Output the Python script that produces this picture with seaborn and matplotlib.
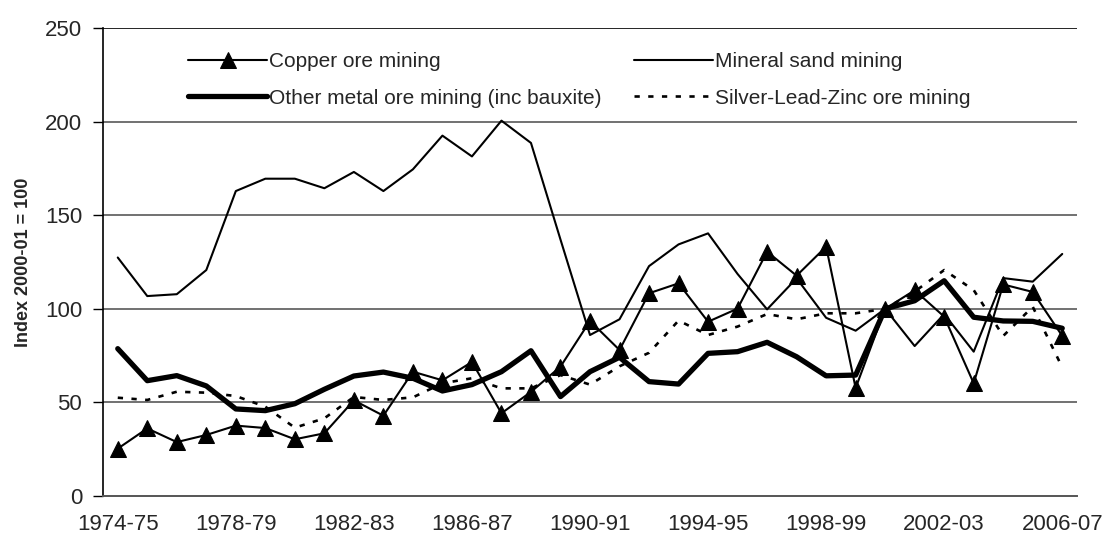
import numpy as np
import pandas as pd
import matplotlib
matplotlib.use("Agg")
import matplotlib.pyplot as plt
import seaborn as sns

# ---- data ----
years = ["1974-75", "1975-76", "1976-77", "1977-78", "1978-79", "1979-80",
         "1980-81", "1981-82", "1982-83", "1983-84", "1984-85", "1985-86",
         "1986-87", "1987-88", "1988-89", "1989-90", "1990-91", "1991-92",
         "1992-93", "1993-94", "1994-95", "1995-96", "1996-97", "1997-98",
         "1998-99", "1999-00", "2000-01", "2001-02", "2002-03", "2003-04",
         "2004-05", "2005-06", "2006-07"]

copper = [25.3, 36.1, 28.8, 32.6, 37.6, 36.3, 30.3, 33.5, 51.1, 42.9, 66.4,
          61.8, 71.6, 44.2, 55.6, 69.1, 93.5, 78.0, 108.3, 113.6, 93.1, 100.1,
          130.5, 117.7, 133.2, 57.7, 100.0, 109.9, 95.8, 60.2, 113.0, 109.0, 85.5]

mineral_sand = [127.4, 106.8, 107.8, 120.7, 162.9, 169.5, 169.5, 164.4, 173.1,
                162.9, 174.5, 192.5, 181.4, 200.5, 188.6, 137.0, 86.0, 94.4,
                122.8, 134.4, 140.3, 118.6, 99.7, 116.3, 95.2, 88.3, 100.0,
                80.1, 97.2, 77.1, 116.4, 114.5, 129.3]

other_metal = [78.7, 61.6, 64.3, 58.8, 46.5, 45.6, 49.3, 57.0, 64.1, 66.2, 62.9,
               56.1, 59.5, 66.4, 77.6, 53.1, 66.4, 74.1, 61.1, 59.8, 76.2, 77.1,
               82.1, 74.4, 64.2, 64.6, 100.0, 104.3, 115.0, 95.5, 93.5, 93.3, 89.6]

silver_lead_zinc = [52.5, 51.3, 55.7, 55.2, 53.4, 47.7, 36.5, 41.5, 52.9, 51.3,
                    52.7, 60.2, 62.9, 57.5, 57.5, 64.6, 59.5, 69.3, 76.5, 93.7,
                    86.0, 90.5, 97.2, 94.4, 97.6, 97.6, 100.0, 109.2, 120.7,
                    110.0, 85.5, 101.1, 68.7]

labels = ["Copper ore mining", "Mineral sand mining",
          "Other metal ore mining (inc bauxite)", "Silver-Lead-Zinc ore mining"]

# ---- style ----
sns.set_theme(style="white")
plt.rcParams["font.family"] = ["Liberation Sans", "DejaVu Sans"]

fig = plt.figure(figsize=(11.07, 5.43), dpi=100)
ax = fig.add_axes([103 / 1107, 1 - 496 / 543, 974 / 1107, 468 / 543])

x = np.arange(len(years))

sns.lineplot(x=x, y=copper, ax=ax, color="black", lw=1.5, marker="^",
             markersize=12, markeredgecolor="black", label=labels[0])
sns.lineplot(x=x, y=mineral_sand, ax=ax, color="black", lw=1.5, label=labels[1])
sns.lineplot(x=x, y=other_metal, ax=ax, color="black", lw=3.8, label=labels[2])
sns.lineplot(x=x, y=silver_lead_zinc, ax=ax, color="black", lw=1.9,
             dashes=(2, 3.2), label=labels[3])

# ---- axes ----
ax.set_xlim(-0.5, len(years) - 0.5)
ax.set_ylim(0, 250)
ax.set_yticks(np.arange(0, 251, 50))
ax.set_yticklabels([str(v) for v in range(0, 251, 50)], fontsize=16)
ax.set_xticks(x[::4])
ax.set_xticklabels(years[::4], fontsize=16)
ax.set_xticks(np.arange(-0.5, len(years), 4), minor=True)
ax.tick_params(axis="x", which="major", length=0, pad=13)
ax.tick_params(axis="x", which="minor", length=7, width=1, color="#555555",
               direction="out")
ax.tick_params(axis="y", length=7, width=1, color="black", direction="out",
               left=True, pad=8)

ax.set_ylabel("Index 2000-01 = 100", fontsize=13, fontweight="bold", labelpad=9)

for v in [50, 100, 150, 200]:
    ax.axhline(v, color="#4a4a4a", lw=1.1, zorder=0)
ax.axhline(250, color="black", lw=1.2, zorder=0)

for s in ["top", "right"]:
    ax.spines[s].set_visible(False)
ax.spines["left"].set_color("black")
ax.spines["left"].set_linewidth(1.2)
ax.spines["bottom"].set_color("#555555")
ax.spines["bottom"].set_linewidth(1.4)

# ---- legend: two columns, no frame ----
h, l = ax.get_legend_handles_labels()
order = [0, 2, 1, 3]
ax.legend([h[i] for i in order], [l[i] for i in order], ncol=2, frameon=False,
          fontsize=15, handlelength=3.8, handletextpad=0.1, columnspacing=1.55,
          labelspacing=0.85, borderpad=0, borderaxespad=0,
          loc="upper left", bbox_to_anchor=(188 / 1107, 1 - 52 / 543),
          bbox_transform=fig.transFigure)

fig.savefig("out.png", dpi=100)
